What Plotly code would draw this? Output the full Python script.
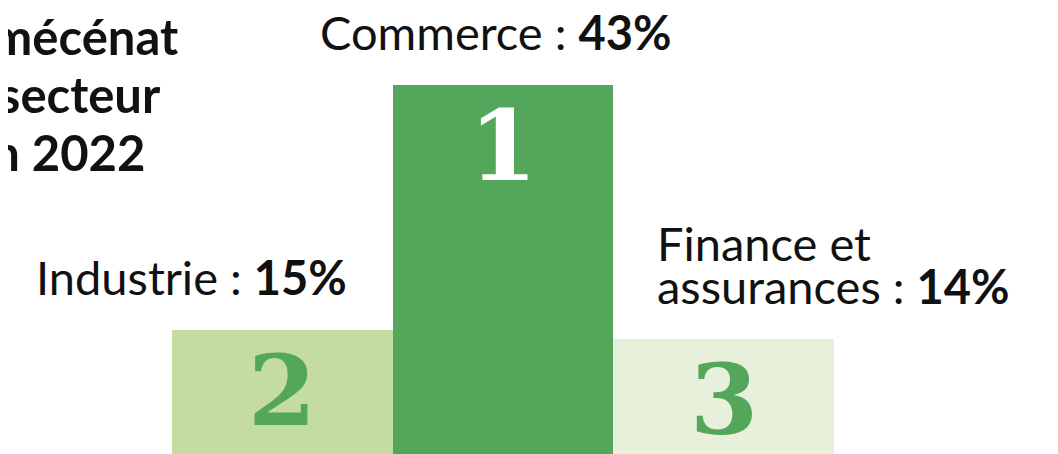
import plotly.graph_objects as go

# données
secteurs = ["Industrie", "Commerce", "Finance et<br>assurances"]
parts = [15, 43, 14]
rangs = ["2", "1", "3"]
couleurs = ["#C4DCA0", "#54A65A", "#E6F0DB"]
couleurs_rang = ["#54A65A", "#FFFFFF", "#54A65A"]
titre_lignes = ["Le mécénat", "par secteur", "en 2022"]

FONT = "Lato"
NOIR = "#111111"

fig = go.Figure()

fig.add_trace(go.Bar(
    x=secteurs,
    y=parts,
    marker=dict(color=couleurs, line=dict(width=0)),
    hoverinfo="skip",
))

# chiffres du podium, dans le haut de chaque barre
for s, p, r, c in zip(secteurs, parts, rangs, couleurs_rang):
    fig.add_annotation(
        x=s, y=p, xref="x", yref="y",
        text=r, showarrow=False,
        xanchor="center", yanchor="top", yshift=-1,
        font=dict(family="DejaVu Serif", size=98, color=c, weight="bold"),
    )

# étiquettes au-dessus des barres (une annotation par ligne)
ancrages = [("right", 67), ("center", -7), ("left", -69)]
for s, p, (anc, dx) in zip(secteurs, parts, ancrages):
    lignes = s.split("<br>")
    lignes[-1] = f"{lignes[-1]} : <b>{p}%</b>"
    n = len(lignes)
    for i, ligne in enumerate(lignes):
        fig.add_annotation(
            x=s, y=p, xref="x", yref="y",
            text=ligne, showarrow=False,
            xanchor=anc, xshift=dx,
            yanchor="bottom", yshift=23 + (n - 1 - i) * 43, align="left",
            font=dict(family=FONT, size=47, color=NOIR),
        )

# titre (coupé à gauche sur l'original)
fins_titre = [8, -9, -25]
for i, (ligne, dx) in enumerate(zip(titre_lignes, fins_titre)):
    fig.add_annotation(
        x=0, y=1, xref="paper", yref="paper",
        text=f"<b>{ligne}</b>", showarrow=False,
        xanchor="right", yanchor="top",
        xshift=dx, yshift=3 - i * 58,
        font=dict(family=FONT, size=49, color=NOIR),
    )

# la page ajoute une marge de 8 px autour de la figure
fig.update_layout(
    width=1058, height=454,
    margin=dict(l=164, r=232, t=0, b=0),
    paper_bgcolor="white", plot_bgcolor="white",
    bargap=0, showlegend=False,
    xaxis=dict(visible=False, range=[-0.5, 2.5], fixedrange=True),
    yaxis=dict(visible=False, range=[-0.07, 51.79], fixedrange=True),
)

fig.write_html("out.html")
